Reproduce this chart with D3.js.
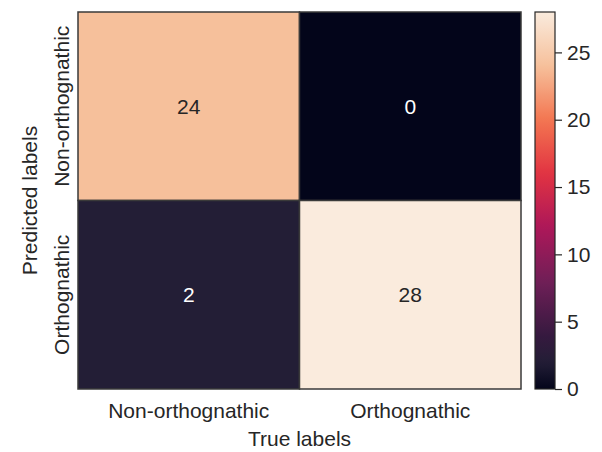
<!DOCTYPE html>
<html>
<head>
<meta charset="utf-8">
<script src="https://cdn.jsdelivr.net/npm/d3@7"></script>
<style>
  html, body { margin: 0; padding: 0; background: #fff; }
  svg text { font-family: "Liberation Sans", Arial, "DejaVu Sans", sans-serif; fill: #262626; }
</style>
</head>
<body>
<svg id="chart" width="602" height="452"></svg>
<script>
// Confusion matrix: rows = predicted, columns = true
const trueLabels = ["Non-orthognathic", "Orthognathic"];
const predLabels = ["Non-orthognathic", "Orthognathic"];
const counts = [
  [24, 0],
  [2, 28]
];
const colorbarTicks = [0, 5, 10, 15, 20, 25];
const colorMin = 0;
const colorMax = 28;

// "rocket"-style sequential palette
const rocketStops = [
  [0.000, "#03051a"],
  [0.071, "#231e36"],
  [0.143, "#36193f"],
  [0.286, "#701f57"],
  [0.429, "#ad1759"],
  [0.571, "#e13342"],
  [0.714, "#f37651"],
  [0.857, "#f6c09b"],
  [1.000, "#faebdd"]
];
const rocket = d3.scaleLinear()
  .domain(rocketStops.map(d => d[0]))
  .range(rocketStops.map(d => d[1]))
  .interpolate(d3.interpolateRgb)
  .clamp(true);
const norm = d3.scaleLinear().domain([colorMin, colorMax]).range([0, 1]);
const color = v => rocket(norm(v));

const svg = d3.select("#chart");
const fontSize = 21;

const plot = { left: 78, right: 521, top: 12, bottom: 389 };

const x = d3.scaleBand().domain(trueLabels).range([plot.left, plot.right]);
const y = d3.scaleBand().domain(predLabels).range([plot.top, plot.bottom]);

// Cells
const cells = [];
predLabels.forEach((p, i) => trueLabels.forEach((t, j) => cells.push({ p, t, v: counts[i][j] })));

svg.append("g").selectAll("rect").data(cells).join("rect")
  .attr("x", d => x(d.t))
  .attr("y", d => y(d.p))
  .attr("width", x.bandwidth())
  .attr("height", y.bandwidth())
  .attr("fill", d => color(d.v))
  .attr("stroke", "#3a3a3a")
  .attr("stroke-width", 1.5);

// Annotations
svg.append("g").selectAll("text").data(cells).join("text")
  .attr("x", d => x(d.t) + x.bandwidth() / 2)
  .attr("y", d => y(d.p) + y.bandwidth() / 2)
  .attr("text-anchor", "middle")
  .attr("dominant-baseline", "central")
  .attr("font-size", fontSize)
  .style("fill", d => {
    const c = d3.lab(color(d.v));
    return c.l > 50 ? "#262626" : "#ffffff";
  })
  .text(d => d.v);

// X tick labels
svg.append("g").selectAll("text").data(trueLabels).join("text")
  .attr("x", d => x(d) + x.bandwidth() / 2)
  .attr("y", 418)
  .attr("text-anchor", "middle")
  .attr("font-size", fontSize)
  .text(d => d);

// Y tick labels (rotated)
svg.append("g").selectAll("text").data(predLabels).join("text")
  .attr("transform", d => `translate(69,${y(d) + y.bandwidth() / 2}) rotate(-90)`)
  .attr("text-anchor", "middle")
  .attr("font-size", fontSize)
  .text(d => d);

// Axis titles
svg.append("text")
  .attr("x", (plot.left + plot.right) / 2)
  .attr("y", 446)
  .attr("text-anchor", "middle")
  .attr("font-size", fontSize)
  .text("True labels");

svg.append("text")
  .attr("transform", `translate(37,${(plot.top + plot.bottom) / 2}) rotate(-90)`)
  .attr("text-anchor", "middle")
  .attr("font-size", fontSize)
  .text("Predicted labels");

// Colorbar
const cb = { left: 535, width: 20, top: 12, bottom: 389 };
const cbScale = d3.scaleLinear().domain([colorMin, colorMax]).range([cb.bottom, cb.top]);

const defs = svg.append("defs");
const grad = defs.append("linearGradient")
  .attr("id", "cbgrad")
  .attr("x1", 0).attr("y1", 1).attr("x2", 0).attr("y2", 0);
d3.range(0, 1.0001, 0.02).forEach(t => {
  grad.append("stop").attr("offset", t).attr("stop-color", rocket(t));
});

svg.append("rect")
  .attr("x", cb.left)
  .attr("y", cb.top)
  .attr("width", cb.width)
  .attr("height", cb.bottom - cb.top)
  .attr("fill", "url(#cbgrad)")
  .attr("stroke", "#262626")
  .attr("stroke-width", 1.2);

const cbAxis = d3.axisRight(cbScale)
  .tickValues(colorbarTicks)
  .tickSize(7)
  .tickPadding(5)
  .tickFormat(d3.format("d"));

const cbG = svg.append("g")
  .attr("transform", `translate(${cb.left + cb.width},0)`)
  .call(cbAxis);
cbG.select(".domain").remove();
cbG.selectAll(".tick line").attr("stroke", "#262626").attr("stroke-width", 1.2);
cbG.selectAll(".tick text")
  .attr("font-size", fontSize)
  .attr("font-family", null)
  .style("fill", "#262626");
</script>
</body>
</html>
